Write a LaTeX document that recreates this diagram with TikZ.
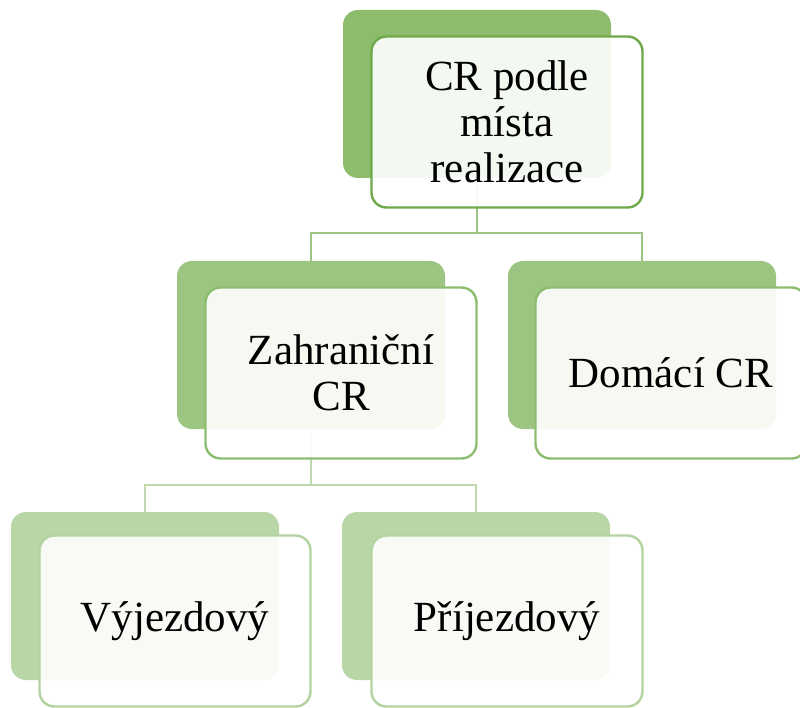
\documentclass[tikz,border=0pt]{standalone}
\usepackage{fontspec}
\setmainfont{Liberation Serif}
\definecolor{backA}{HTML}{8CBC6C}
\definecolor{backB}{HTML}{9CC582}
\definecolor{backC}{HTML}{B8D6A6}
\definecolor{lineA}{HTML}{70A84C}
\definecolor{lineB}{HTML}{8DBE70}
\definecolor{lineC}{HTML}{B3D3A0}
\definecolor{linkA}{HTML}{9CC583}
\definecolor{linkB}{HTML}{C0DAB0}
\begin{document}
\begin{tikzpicture}[x=1pt,y=-1pt,
  back/.style={rounded corners=15pt,minimum width=268pt,minimum height=168pt,inner sep=0pt},
  front/.style={draw,line width=2.4pt,rounded corners=15pt,fill=white,fill opacity=0.9,text opacity=1,
    minimum width=271pt,minimum height=171pt,inner sep=0pt,align=center,font=\fontsize{43}{46}\selectfont},
  link/.style={line width=2.4pt}]
\useasboundingbox (0,0) rectangle (800,708);
% back boxes
\node[back,fill=backA] (topb) at (477,94) {};
\node[back,fill=backB] (zahrb) at (311,345) {};
\node[back,fill=backB] (domb) at (642,345) {};
\node[back,fill=backC] (vyjb) at (145,596) {};
\node[back,fill=backC] (prijb) at (476,596) {};
% connectors
\coordinate (j1) at (477,233);
\coordinate (j2) at (311,485);
\draw[link,linkA] (topb.south) -- (j1) -| (zahrb.north);
\draw[link,linkA] (j1) -| (domb.north);
\draw[link,linkB] (zahrb.south) -- (j2) -| (vyjb.north);
\draw[link,linkB] (j2) -| (prijb.north);
% front boxes
\node[front,draw=lineA] (top) at (507,122) {CR podle\\místa\\realizace};
\node[front,draw=lineB] (zahr) at (341,373) {Zahraniční\\CR};
\node[front,draw=lineB] (dom) at (671,373) {Domácí CR};
\node[front,draw=lineC] (vyj) at (175,621) {Výjezdový};
\node[front,draw=lineC] (prij) at (507,621) {Příjezdový};
\end{tikzpicture}
\end{document}
